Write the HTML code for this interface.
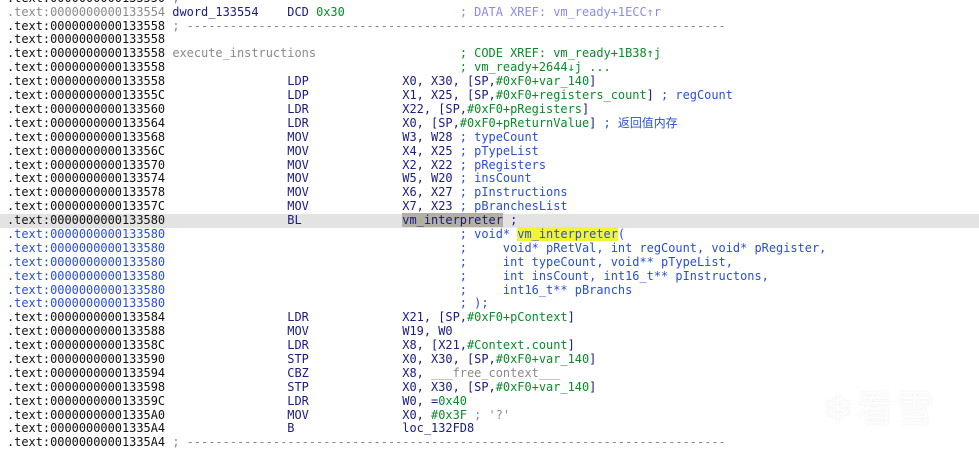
<!DOCTYPE html>
<html><head><meta charset="utf-8"><style>
html,body{margin:0;padding:0;background:#fff;width:979px;height:452px;overflow:hidden}
#c{position:absolute;left:0;top:-8.2px;width:979px}
.l{position:relative;height:13.9px;line-height:13.9px;white-space:pre;font-family:"DejaVu Sans Mono","Liberation Mono","Noto Sans CJK SC",monospace;font-size:11.95px;color:#1b1b80;padding-left:7px}
.a{color:#111}
.g{color:#8a8a8a}
.b{color:#2a4fd0}
.n{color:#1b1b80}
.gr{color:#0b8a2a}
.p{color:#8a8aee}
.hl{background:#e3e3e3}
.sel{background:#b3afa3}
.y{background:#f3f33a}
#wm{position:absolute;left:822px;top:378px;font-family:"Noto Sans CJK SC",sans-serif;font-size:38px;color:#fdfdfd;text-shadow:0 0 2px #ececec;letter-spacing:2px}
</style></head><body>
<div id="c">
<div class="l"><span class="a">.text:0000000000133550</span> <span class="g">;</span></div>
<div class="l"><span class="g">.text:0000000000133554</span> dword_133554    DCD <span class="gr">0x30</span>                <span class="p">; DATA XREF: vm_ready+1ECC↑r</span></div>
<div class="l"><span class="a">.text:0000000000133558</span> <span class="g">; ---------------------------------------------------------------------------</span></div>
<div class="l"><span class="a">.text:0000000000133558</span></div>
<div class="l"><span class="a">.text:0000000000133558</span> <span class="g">execute_instructions</span>                    <span class="gr">; CODE XREF: vm_ready+1B38↑j</span></div>
<div class="l"><span class="a">.text:0000000000133558</span>                                         <span class="gr">; vm_ready+2644↓j ...</span></div>
<div class="l"><span class="a">.text:0000000000133558</span>                 LDP             X0, X30, [SP,<span class="gr">#0xF0+var_140</span>]</div>
<div class="l"><span class="a">.text:000000000013355C</span>                 LDP             X1, X25, [SP,<span class="gr">#0xF0+registers_count</span>] <span class="b">; regCount</span></div>
<div class="l"><span class="a">.text:0000000000133560</span>                 LDR             X22, [SP,<span class="gr">#0xF0+pRegisters</span>]</div>
<div class="l"><span class="a">.text:0000000000133564</span>                 LDR             X0, [SP,<span class="gr">#0xF0+pReturnValue</span>] <span class="b">; 返回值内存</span></div>
<div class="l"><span class="a">.text:0000000000133568</span>                 MOV             W3, W28 <span class="b">; typeCount</span></div>
<div class="l"><span class="a">.text:000000000013356C</span>                 MOV             X4, X25 <span class="b">; pTypeList</span></div>
<div class="l"><span class="a">.text:0000000000133570</span>                 MOV             X2, X22 <span class="b">; pRegisters</span></div>
<div class="l"><span class="a">.text:0000000000133574</span>                 MOV             W5, W20 <span class="b">; insCount</span></div>
<div class="l"><span class="a">.text:0000000000133578</span>                 MOV             X6, X27 <span class="b">; pInstructions</span></div>
<div class="l"><span class="a">.text:000000000013357C</span>                 MOV             X7, X23 <span class="b">; pBranchesList</span></div>
<div class="l hl"><span class="a">.text:0000000000133580</span>                 BL              <span class="sel">vm_interpreter</span> ;</div>
<div class="l"><span class="b">.text:0000000000133580                                         ; void* <span class="y">vm_interpreter</span>(</span></div>
<div class="l"><span class="b">.text:0000000000133580                                         ;     void* pRetVal, int regCount, void* pRegister,</span></div>
<div class="l"><span class="b">.text:0000000000133580                                         ;     int typeCount, void** pTypeList,</span></div>
<div class="l"><span class="b">.text:0000000000133580                                         ;     int insCount, int16_t** pInstructons,</span></div>
<div class="l"><span class="b">.text:0000000000133580                                         ;     int16_t** pBranchs</span></div>
<div class="l"><span class="b">.text:0000000000133580                                         ; );</span></div>
<div class="l"><span class="a">.text:0000000000133584</span>                 LDR             X21, [SP,<span class="gr">#0xF0+pContext</span>]</div>
<div class="l"><span class="a">.text:0000000000133588</span>                 MOV             W19, W0</div>
<div class="l"><span class="a">.text:000000000013358C</span>                 LDR             X8, [X21,<span class="gr">#Context.count</span>]</div>
<div class="l"><span class="a">.text:0000000000133590</span>                 STP             X0, X30, [SP,<span class="gr">#0xF0+var_140</span>]</div>
<div class="l"><span class="a">.text:0000000000133594</span>                 CBZ             X8, <span class="g">___free_context___</span></div>
<div class="l"><span class="a">.text:0000000000133598</span>                 STP             X0, X30, [SP,<span class="gr">#0xF0+var_140</span>]</div>
<div class="l"><span class="a">.text:000000000013359C</span>                 LDR             W0, =<span class="gr">0x40</span></div>
<div class="l"><span class="a">.text:00000000001335A0</span>                 MOV             X0, <span class="gr">#0x3F</span> <span class="g">; '?'</span></div>
<div class="l"><span class="a">.text:00000000001335A4</span>                 B               loc_132FD8</div>
<div class="l"><span class="a">.text:00000000001335A4</span> <span class="g">; ---------------------------------------------------------------------------</span></div>
</div>
<div id="wm">❄看雪</div>
</body></html>
